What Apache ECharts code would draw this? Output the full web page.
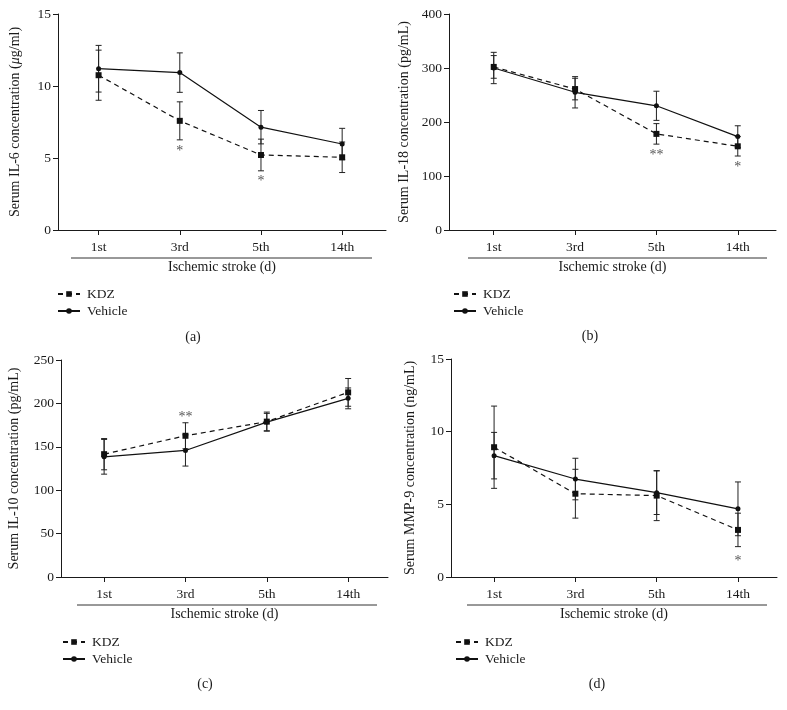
<!DOCTYPE html>
<html>
<head>
<meta charset="utf-8">
<script src="https://cdn.jsdelivr.net/npm/echarts@6/dist/echarts.min.js"></script>
<style>
html,body{margin:0;padding:0;background:#fff;}
#c{width:787px;height:710px;}
</style>
</head>
<body>
<div id="c"></div>
<script>
// ---- data ----
const categories = ['1st', '3rd', '5th', '14th'];

const il6KDZ = [10.75, 7.58, 5.21, 5.05];
const il6KDZErr = [1.74, 1.32, 1.10, 1.06];
const il6Veh = [11.20, 10.93, 7.14, 5.97];
const il6VehErr = [1.62, 1.37, 1.16, 1.09];
const il6Sig = ['', '*', '*', ''];

const il18KDZ = [302, 261, 178, 155];
const il18KDZErr = [21, 20, 19, 18];
const il18Veh = [300, 255, 230, 173];
const il18VehErr = [29, 29, 27, 20];
const il18Sig = ['', '', '**', '*'];

const il10KDZ = [141.5, 162.7, 179, 212.7];
const il10KDZErr = [18, 15, 11, 16];
const il10Veh = [138.5, 145.8, 178.5, 205.8];
const il10VehErr = [20, 18, 10, 12];
const il10Sig = ['', '**', '', ''];

const mmpKDZ = [8.93, 5.73, 5.60, 3.24];
const mmpKDZErr = [2.83, 1.68, 1.72, 1.15];
const mmpVeh = [8.35, 6.74, 5.80, 4.69];
const mmpVehErr = [1.60, 1.43, 1.50, 1.85];
const mmpSig = ['', '', '', '*'];

const yTicksA = [0, 15, 5];
const yTicksB = [0, 400, 100];
const yTicksC = [0, 250, 50];
const yTicksD = [0, 15, 5];

// ---- styling / layout ----
const FONT = "'Liberation Serif', 'DejaVu Serif', serif";
const INK = '#1a1a1a';
const panels = [
  {grid:{left:58, top:14, width:328, height:216}, xr:[-0.5, 3.54], yt:yTicksA,
   name:'Serum IL-6 concentration ({it|\u03bc}g/ml)', nameGap:36,
   kdz:il6KDZ, kdzE:il6KDZErr, veh:il6Veh, vehE:il6VehErr, sig:il6Sig, sigDir:1, sigOff:8,
   legend:{left:57, top:287}, line:[71, 372, 258], tag:['(a)', 193, 337]},
  {grid:{left:449, top:14, width:327, height:216}, xr:[-0.55, 3.47], yt:yTicksB,
   name:'Serum IL-18 concentration (pg/mL)', nameGap:38,
   kdz:il18KDZ, kdzE:il18KDZErr, veh:il18Veh, vehE:il18VehErr, sig:il18Sig, sigDir:1, sigOff:8,
   legend:{left:453, top:287}, line:[468, 767, 258], tag:['(b)', 590, 336]},
  {grid:{left:61, top:360, width:327, height:217}, xr:[-0.53, 3.49], yt:yTicksC,
   name:'Serum IL-10 concentration (pg/mL)', nameGap:40,
   kdz:il10KDZ, kdzE:il10KDZErr, veh:il10Veh, vehE:il10VehErr, sig:il10Sig, sigDir:-1, sigOff:8,
   legend:{left:62, top:635}, line:[77, 377, 605], tag:['(c)', 205, 684]},
  {grid:{left:451, top:359, width:326, height:218}, xr:[-0.53, 3.48], yt:yTicksD,
   name:'Serum MMP-9 concentration (ng/mL)', nameGap:34,
   kdz:mmpKDZ, kdzE:mmpKDZErr, veh:mmpVeh, vehE:mmpVehErr, sig:mmpSig, sigDir:1, sigOff:12,
   legend:{left:455, top:635}, line:[467, 767, 605], tag:['(d)', 597, 684]}
];

const option = {
  animation:false,
  backgroundColor:'#fff',
  textStyle:{fontFamily:FONT},
  grid:[], xAxis:[], yAxis:[], series:[], legend:[], graphic:[]
};

function errRender(params, api){
  const x = api.value(0), lo = api.value(1), hi = api.value(2);
  const p1 = api.coord([x, hi]), p2 = api.coord([x, lo]);
  const w = 3, st = {stroke:'#222', lineWidth:1};
  return {type:'group', children:[
    {type:'line', shape:{x1:p1[0], y1:p1[1], x2:p2[0], y2:p2[1]}, style:st},
    {type:'line', shape:{x1:p1[0]-w, y1:p1[1], x2:p1[0]+w, y2:p1[1]}, style:st},
    {type:'line', shape:{x1:p2[0]-w, y1:p2[1], x2:p2[0]+w, y2:p2[1]}, style:st}
  ]};
}

panels.forEach((p, k) => {
  option.grid.push(Object.assign({containLabel:false}, p.grid));
  option.xAxis.push({
    type:'value', gridIndex:k, min:p.xr[0], max:p.xr[1],
    name:'Ischemic stroke (d)', nameLocation:'middle', nameGap:30,
    nameTextStyle:{fontFamily:FONT, fontSize:14, color:INK},
    axisLine:{onZero:false, lineStyle:{color:INK, width:1}},
    axisTick:{customValues:[0,1,2,3], length:5, lineStyle:{color:INK}},
    axisLabel:{customValues:[0,1,2,3], margin:10, fontFamily:FONT, fontSize:13.5, color:INK,
      formatter:v => categories[Math.round(v)] || ''},
    splitLine:{show:false}
  });
  option.yAxis.push({
    type:'value', gridIndex:k, min:p.yt[0], max:p.yt[1], interval:p.yt[2],
    name:p.name, nameLocation:'middle', nameGap:p.nameGap,
    nameTextStyle:{fontFamily:FONT, fontSize:14, color:INK,
      rich:{it:{fontStyle:'italic', fontFamily:FONT, fontSize:14, color:INK}}},
    axisLine:{show:true, onZero:false, lineStyle:{color:INK, width:1}},
    axisTick:{show:true, length:5, lineStyle:{color:INK}},
    axisLabel:{margin:7, fontFamily:FONT, fontSize:13.5, color:INK},
    splitLine:{show:false}
  });
  const errData = [];
  categories.forEach((c, i) => {
    errData.push([i, p.veh[i]-p.vehE[i], p.veh[i]+p.vehE[i]]);
    errData.push([i, p.kdz[i]-p.kdzE[i], p.kdz[i]+p.kdzE[i]]);
  });
  option.series.push({
    type:'custom', name:'err'+k, xAxisIndex:k, yAxisIndex:k, renderItem:errRender,
    encode:{x:0, y:[1,2]}, data:errData, z:2, silent:true
  });
  option.series.push({
    type:'line', name:'Vehicle', xAxisIndex:k, yAxisIndex:k,
    data:categories.map((c,i)=>[i, p.veh[i]]),
    symbol:'circle', symbolSize:5, itemStyle:{color:'#111'},
    lineStyle:{color:'#111', width:1.2, type:'solid'}, z:3
  });
  option.series.push({
    type:'line', name:'KDZ', xAxisIndex:k, yAxisIndex:k,
    data:categories.map((c,i)=>[i, p.kdz[i]]),
    symbol:'rect', symbolSize:6, itemStyle:{color:'#111'},
    lineStyle:{color:'#111', width:1.2, type:[5,4]}, z:4
  });
  // significance marks next to KDZ error bars
  const sigData = [], sigText = [];
  p.sig.forEach((s, i) => {
    if (!s) return;
    const edge = p.sigDir > 0 ? p.kdz[i]-p.kdzE[i] : p.kdz[i]+p.kdzE[i];
    sigData.push([i, edge]); sigText.push(s);
  });
  option.series.push({
    type:'custom', name:'sig'+k, xAxisIndex:k, yAxisIndex:k, silent:true, z:5,
    encode:{x:0, y:1}, data:sigData,
    renderItem:(params, api) => {
      const pt = api.coord([api.value(0), api.value(1)]);
      return {type:'text', x:pt[0], y:pt[1] + p.sigDir*p.sigOff + 3,
        style:{text:sigText[params.dataIndex], fill:'#555', font:'14px ' + FONT,
          textAlign:'center', textVerticalAlign:'middle'}};
    }
  });
  option.legend.push({
    left:p.legend.left, top:p.legend.top, orient:'vertical', itemGap:3, padding:0,
    itemWidth:22, itemHeight:7, data:['KDZ', 'Vehicle'],
    textStyle:{fontFamily:FONT, fontSize:13.5, color:INK, padding:[0,0,0,2]}, selectedMode:false
  });
  option.graphic.push({type:'line', silent:true,
    shape:{x1:p.line[0], y1:p.line[2], x2:p.line[1], y2:p.line[2]},
    style:{stroke:'#333', lineWidth:1}});
  option.graphic.push({type:'text', silent:true, x:p.tag[1], y:p.tag[2],
    style:{text:p.tag[0], font:'14px ' + FONT, fill:INK, textAlign:'center', textVerticalAlign:'middle'}});
});

const chart = echarts.init(document.getElementById('c'), null, {renderer:'canvas'});
chart.setOption(option);
</script>
</body>
</html>
